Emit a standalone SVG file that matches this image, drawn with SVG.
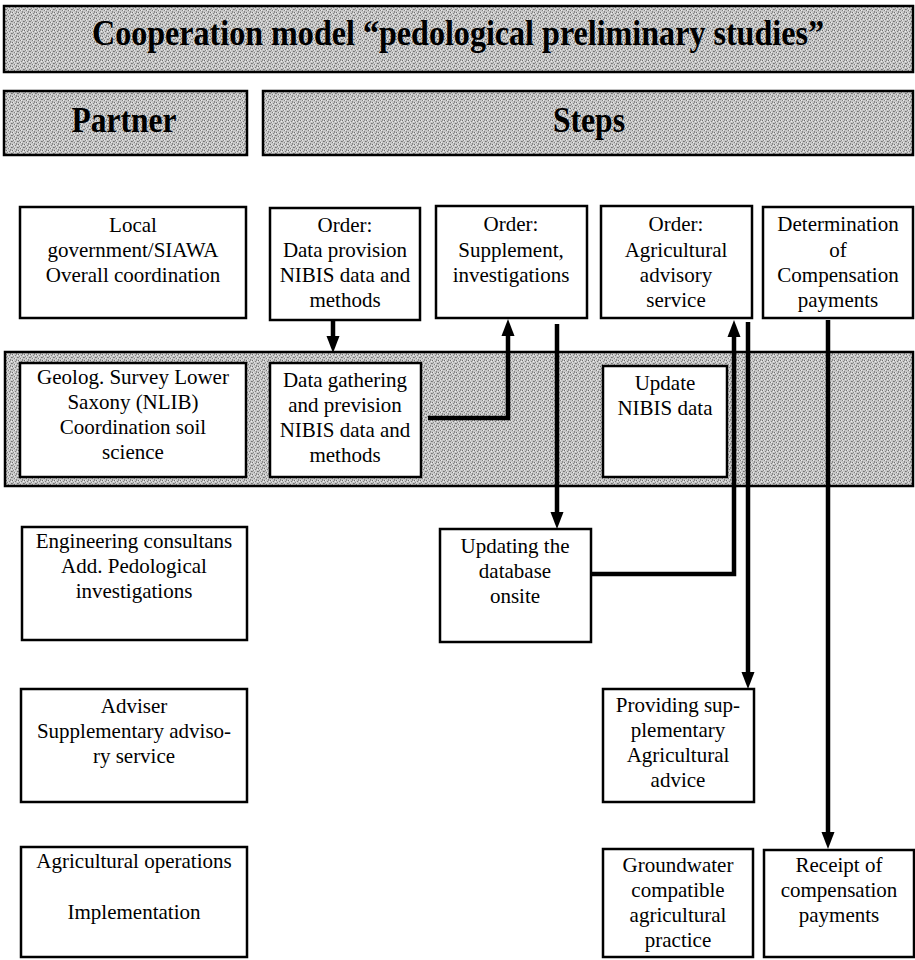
<svg xmlns="http://www.w3.org/2000/svg" width="915" height="960" viewBox="0 0 915 960">
  <defs>
    <!-- halftone-like grey screen used for the header bars and the survey band -->
    <pattern id="screen" width="6" height="6" patternUnits="userSpaceOnUse">
      <rect width="6" height="6" fill="#c6c6c6"/>
      <rect x="0" y="0" width="1" height="1" fill="#6e6e6e"/>
      <rect x="3" y="1" width="1" height="1" fill="#7c7c7c"/>
      <rect x="1" y="2" width="1" height="1" fill="#8a8a8a"/>
      <rect x="5" y="3" width="1" height="1" fill="#727272"/>
      <rect x="2" y="4" width="1" height="1" fill="#7e7e7e"/>
      <rect x="4" y="5" width="1" height="1" fill="#848484"/>
      <rect x="4" y="0" width="1" height="1" fill="#8e8e8e"/>
      <rect x="0" y="3" width="1" height="1" fill="#888888"/>
      <rect x="5" y="1" width="1" height="1" fill="#eeeeee"/>
      <rect x="1" y="0" width="1" height="1" fill="#e8e8e8"/>
      <rect x="3" y="4" width="1" height="1" fill="#ececec"/>
      <rect x="2" y="2" width="1" height="1" fill="#e4e4e4"/>
    </pattern>
    <!-- slim filled arrowhead; tip sits 10px beyond the end of the line -->
    <marker id="head" markerWidth="18" markerHeight="14" refX="6" refY="7" orient="auto" markerUnits="userSpaceOnUse" viewBox="0 0 18 14">
      <path d="M0,0.5 L17,7 L0,13.5 Z" fill="#000"/>
    </marker>
  </defs>
  <style>
    .bar { fill: url(#screen); stroke: #000; stroke-width: 2.5; }
    .box { fill: #fff; stroke: #000; stroke-width: 2.5; }
    .hdr { font-family: "Liberation Serif", "Times New Roman", serif; font-weight: bold; font-size: 36px; fill: #000; text-anchor: middle; }
    .ttl { font-size: 35px; }
    .t { font-family: "Liberation Serif", "Times New Roman", serif; font-size: 21px; fill: #000; text-anchor: middle; }
    .wire { fill: none; stroke: #000; stroke-width: 4.5; }
  </style>

  <rect width="915" height="960" fill="#fff"/>

  <!-- headers -->
  <g id="title">
    <rect class="bar" x="4" y="6" width="909" height="66"/>
    <text class="hdr ttl" x="458" y="45" textLength="732" lengthAdjust="spacingAndGlyphs">Cooperation model “pedological preliminary studies”</text>
  </g>
  <g id="partner-header">
    <rect class="bar" x="4" y="91" width="243" height="64"/>
    <text class="hdr" x="124" y="132" textLength="105" lengthAdjust="spacingAndGlyphs">Partner</text>
  </g>
  <g id="steps-header">
    <rect class="bar" x="263" y="91" width="650" height="64"/>
    <text class="hdr" x="589" y="132" textLength="72" lengthAdjust="spacingAndGlyphs">Steps</text>
  </g>

  <!-- grey band for the survey row -->
  <g id="survey-band">
    <rect class="bar" x="5" y="352" width="908" height="134"/>
  </g>

  <!-- row 1 -->
  <g id="local-government">
    <rect class="box" x="20" y="207" width="226" height="111"/>
    <text class="t" x="133" y="232">Local</text>
    <text class="t" x="133" y="257">government/SIAWA</text>
    <text class="t" x="133" y="282">Overall coordination</text>
  </g>
  <g id="order-data-provision">
    <rect class="box" x="270" y="208" width="150" height="112"/>
    <text class="t" x="345" y="232">Order:</text>
    <text class="t" x="345" y="257">Data provision</text>
    <text class="t" x="345" y="282">NIBIS data and</text>
    <text class="t" x="345" y="307">methods</text>
  </g>
  <g id="order-supplement">
    <rect class="box" x="436" y="206" width="151" height="112"/>
    <text class="t" x="511" y="231">Order:</text>
    <text class="t" x="511" y="257">Supplement,</text>
    <text class="t" x="511" y="282">investigations</text>
  </g>
  <g id="order-advisory">
    <rect class="box" x="601" y="206" width="151" height="112"/>
    <text class="t" x="676" y="231">Order:</text>
    <text class="t" x="676" y="257">Agricultural</text>
    <text class="t" x="676" y="282">advisory</text>
    <text class="t" x="676" y="307">service</text>
  </g>
  <g id="determination">
    <rect class="box" x="763" y="207" width="150" height="111"/>
    <text class="t" x="838" y="231">Determination</text>
    <text class="t" x="838" y="257">of</text>
    <text class="t" x="838" y="282">Compensation</text>
    <text class="t" x="838" y="307">payments</text>
  </g>

  <!-- row 2 (inside band) -->
  <g id="geological-survey">
    <rect class="box" x="20" y="363" width="226" height="114"/>
    <text class="t" x="133" y="384">Geolog. Survey Lower</text>
    <text class="t" x="133" y="409">Saxony (NLIB)</text>
    <text class="t" x="133" y="434">Coordination soil</text>
    <text class="t" x="133" y="459">science</text>
  </g>
  <g id="data-gathering">
    <rect class="box" x="270" y="363" width="151" height="114"/>
    <text class="t" x="345" y="387">Data gathering</text>
    <text class="t" x="345" y="412">and prevision</text>
    <text class="t" x="345" y="437">NIBIS data and</text>
    <text class="t" x="345" y="462">methods</text>
  </g>
  <g id="update-nibis">
    <rect class="box" x="603" y="366" width="124" height="111"/>
    <text class="t" x="665" y="390">Update</text>
    <text class="t" x="665" y="415">NIBIS data</text>
  </g>

  <!-- row 3 -->
  <g id="engineering-consultants">
    <rect class="box" x="22" y="527" width="225" height="113"/>
    <text class="t" x="134" y="548">Engineering consultans</text>
    <text class="t" x="134" y="573">Add. Pedological</text>
    <text class="t" x="134" y="598">investigations</text>
  </g>
  <g id="updating-database">
    <rect class="box" x="440" y="529" width="151" height="113"/>
    <text class="t" x="515" y="553">Updating the</text>
    <text class="t" x="515" y="578">database</text>
    <text class="t" x="515" y="603">onsite</text>
  </g>

  <!-- row 4 -->
  <g id="adviser">
    <rect class="box" x="21" y="689" width="226" height="113"/>
    <text class="t" x="134" y="713">Adviser</text>
    <text class="t" x="134" y="738">Supplementary adviso-</text>
    <text class="t" x="134" y="763">ry service</text>
  </g>
  <g id="providing-advice">
    <rect class="box" x="603" y="689" width="151" height="113"/>
    <text class="t" x="678" y="712">Providing sup-</text>
    <text class="t" x="678" y="737">plementary</text>
    <text class="t" x="678" y="762">Agricultural</text>
    <text class="t" x="678" y="787">advice</text>
  </g>

  <!-- row 5 -->
  <g id="agricultural-operations">
    <rect class="box" x="21" y="847" width="226" height="110"/>
    <text class="t" x="134" y="868">Agricultural operations</text>
    <text class="t" x="134" y="919">Implementation</text>
  </g>
  <g id="groundwater-practice">
    <rect class="box" x="603" y="849" width="150" height="108"/>
    <text class="t" x="678" y="872">Groundwater</text>
    <text class="t" x="678" y="897">compatible</text>
    <text class="t" x="678" y="922">agricultural</text>
    <text class="t" x="678" y="947">practice</text>
  </g>
  <g id="receipt-compensation">
    <rect class="box" x="764" y="850" width="150" height="107"/>
    <text class="t" x="839" y="872">Receipt of</text>
    <text class="t" x="839" y="897">compensation</text>
    <text class="t" x="839" y="922">payments</text>
  </g>

  <!-- connectors (each path stops short of its arrow tip; the marker supplies the rest) -->
  <g id="connectors">
    <path class="wire" d="M333,320 V342" marker-end="url(#head)"/>
    <path class="wire" d="M428,418 H508 V330" marker-end="url(#head)"/>
    <path class="wire" d="M557,324 V518" marker-end="url(#head)"/>
    <path class="wire" d="M591,574 H734 V331" marker-end="url(#head)"/>
    <path class="wire" d="M748,322 V678" marker-end="url(#head)"/>
    <path class="wire" d="M828,320 V838" marker-end="url(#head)"/>
  </g>
</svg>
